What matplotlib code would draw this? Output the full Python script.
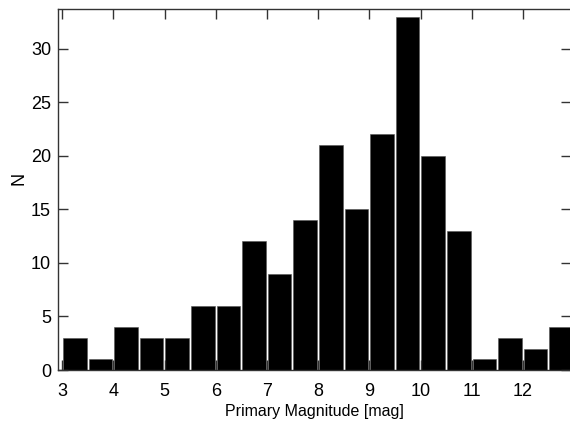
import numpy as np
import matplotlib
matplotlib.use('Agg')
import matplotlib.pyplot as plt

plt.rcParams['font.family'] = ['Liberation Sans', 'DejaVu Sans']

# bin left edges (mag) and counts
bin_left = [3.0, 3.5, 4.0, 4.5, 5.0, 5.5, 6.0, 6.5, 7.0, 7.5,
            8.0, 8.5, 9.0, 9.5, 10.0, 10.5, 11.0, 11.5, 12.0, 12.5]
counts = [3, 1, 4, 3, 3, 6, 6, 12, 9, 14,
          21, 15, 22, 33, 20, 13, 1, 3, 2, 4]
xticks = [3, 4, 5, 6, 7, 8, 9, 10, 11, 12]
yticks = [0, 5, 10, 15, 20, 25, 30]

fig = plt.figure(figsize=(5.7, 4.3), dpi=100)
ax = fig.add_axes([0.1018, 0.1395, 0.9, 0.8395])

ax.bar(np.array(bin_left) + 0.018, counts, width=0.46, align='edge',
       color='black', edgecolor='#555555', linewidth=0.4)

ax.set_xlim(2.92, 12.94)
ax.set_ylim(0, 33.7)
ax.set_xticks(xticks)
ax.set_yticks(yticks)
ax.tick_params(direction='in', length=7, width=1, top=True, right=True,
               labelsize=13, color='#333333')
ax.tick_params(axis='x', pad=9)
ax.tick_params(axis='y', pad=5)
for s in ax.spines.values():
    s.set_color('#333333')
    s.set_linewidth(1)
ax.spines['right'].set_visible(False)

ax.set_xlabel('Primary Magnitude [mag]', fontsize=11.5, labelpad=3)
ax.set_ylabel('N', fontsize=13)
ax.yaxis.set_label_coords(-0.06, 0.53)

fig.savefig('out.png', dpi=100)
